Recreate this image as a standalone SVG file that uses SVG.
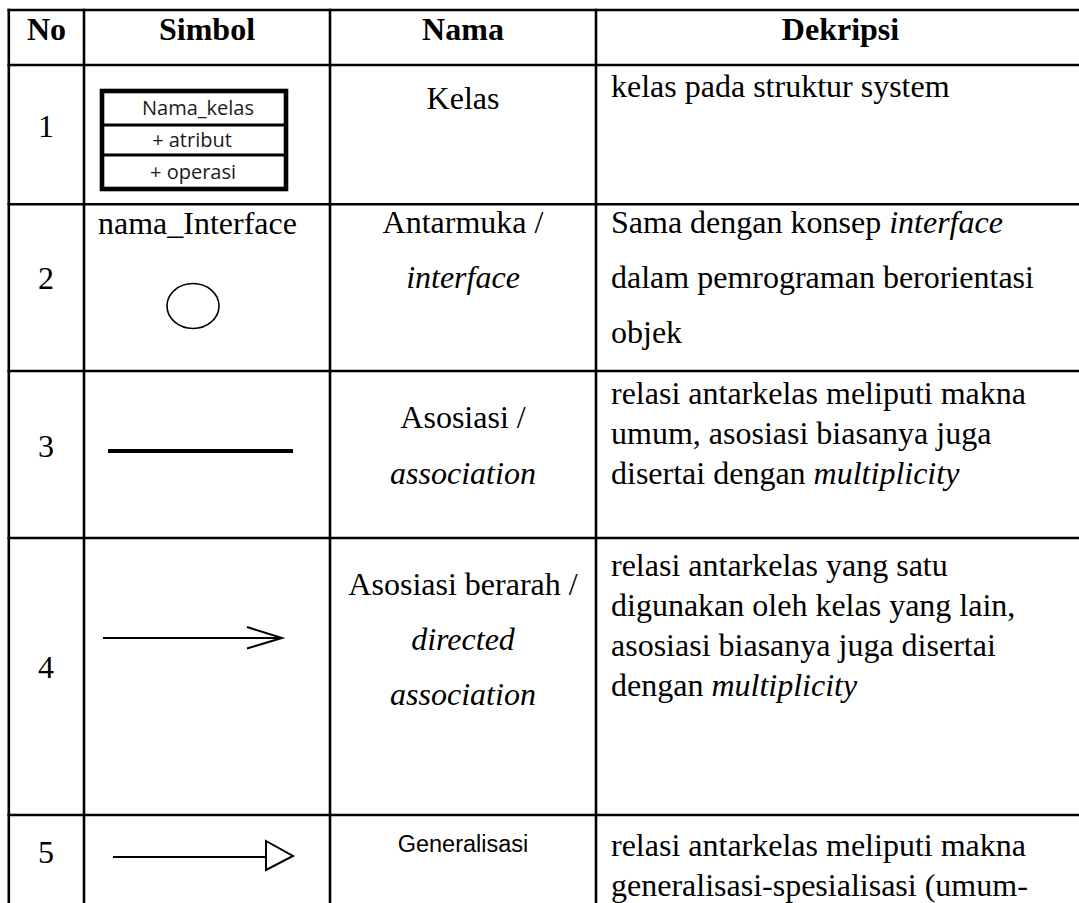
<svg xmlns="http://www.w3.org/2000/svg" width="1079" height="903" viewBox="0 0 1079 903">
  <style>
    .grid { stroke: #000; stroke-width: 2.6; fill: none; }
    .hd { font-family: "Liberation Serif", "Times New Roman", serif; font-size: 32px; font-weight: bold; fill: #000; text-anchor: middle; }
    .tx { font-family: "Liberation Serif", "Times New Roman", serif; font-size: 32px; fill: #000; }
    .mid { text-anchor: middle; }
    .it { font-style: italic; }
    .cls { font-family: "Open Sans", "Noto Sans", sans-serif; font-size: 20px; fill: #1a1a1a; text-anchor: middle; }
    .sym { stroke: #000; fill: none; stroke-linecap: butt; }
  </style>

  <rect x="0" y="0" width="1079" height="903" fill="#fff"/>

  <!-- table rules -->
  <g id="grid" class="grid">
    <line x1="7.5" y1="10" x2="1079" y2="10"/>
    <line x1="7.5" y1="65" x2="1079" y2="65"/>
    <line x1="7.5" y1="204.3" x2="1079" y2="204.3"/>
    <line x1="7.5" y1="371" x2="1079" y2="371"/>
    <line x1="7.5" y1="538" x2="1079" y2="538"/>
    <line x1="7.5" y1="815" x2="1079" y2="815"/>
    <line x1="8.8" y1="8.7" x2="8.8" y2="903"/>
    <line x1="84" y1="8.7" x2="84" y2="903"/>
    <line x1="330" y1="8.7" x2="330" y2="903"/>
    <line x1="596" y1="8.7" x2="596" y2="903"/>
  </g>

  <!-- header row -->
  <g id="header">
    <text class="hd" x="46.5" y="40">No</text>
    <text class="hd" x="207" y="40">Simbol</text>
    <text class="hd" x="463" y="40">Nama</text>
    <text class="hd" x="840.5" y="40">Dekripsi</text>
  </g>

  <!-- row 1: class -->
  <g id="row1">
    <text class="tx mid" x="46" y="137">1</text>
    <g id="class-symbol">
      <rect x="102" y="91" width="184" height="98" fill="#fff" stroke="#000" stroke-width="4.6"/>
      <line class="sym" x1="102" y1="125" x2="286" y2="125" stroke-width="2.8"/>
      <line class="sym" x1="102" y1="155" x2="286" y2="155" stroke-width="2.8"/>
      <text class="cls" x="198" y="115">Nama_kelas</text>
      <text class="cls" x="192" y="147">+ atribut</text>
      <text class="cls" x="193" y="179">+ operasi</text>
    </g>
    <text class="tx mid" x="463" y="109">Kelas</text>
    <text class="tx" x="611" y="97">kelas pada struktur system</text>
  </g>

  <!-- row 2: interface -->
  <g id="row2">
    <text class="tx mid" x="46" y="289">2</text>
    <g id="interface-symbol">
      <text class="tx" x="98" y="234">nama_Interface</text>
      <ellipse cx="193" cy="306" rx="26" ry="22.5" fill="#fff" stroke="#000" stroke-width="1.6"/>
    </g>
    <text class="tx mid" x="463" y="233">Antarmuka /</text>
    <text class="tx mid it" x="463" y="288">interface</text>
    <text class="tx" x="611" y="233">Sama dengan konsep <tspan class="it">interface</tspan></text>
    <text class="tx" x="611" y="288">dalam pemrograman berorientasi</text>
    <text class="tx" x="611" y="343">objek</text>
  </g>

  <!-- row 3: association -->
  <g id="row3">
    <text class="tx mid" x="46" y="457">3</text>
    <line id="association-symbol" class="sym" x1="108" y1="451" x2="293" y2="451" stroke-width="4"/>
    <text class="tx mid" x="463" y="428">Asosiasi /</text>
    <text class="tx mid it" x="463" y="484">association</text>
    <text class="tx" x="611" y="404">relasi antarkelas meliputi makna</text>
    <text class="tx" x="611" y="444">umum, asosiasi biasanya juga</text>
    <text class="tx" x="611" y="484">disertai dengan <tspan class="it">multiplicity</tspan></text>
  </g>

  <!-- row 4: directed association -->
  <g id="row4">
    <text class="tx mid" x="46" y="678">4</text>
    <g id="directed-symbol" class="sym" stroke-width="2">
      <line x1="103" y1="638" x2="281" y2="638"/>
      <polyline points="247,627 282,638 247,648.5"/>
    </g>
    <text class="tx mid" x="463" y="595">Asosiasi berarah /</text>
    <text class="tx mid it" x="463" y="650">directed</text>
    <text class="tx mid it" x="463" y="705">association</text>
    <text class="tx" x="611" y="576">relasi antarkelas yang satu</text>
    <text class="tx" x="611" y="616">digunakan oleh kelas yang lain,</text>
    <text class="tx" x="611" y="656">asosiasi biasanya juga disertai</text>
    <text class="tx" x="611" y="696">dengan <tspan class="it">multiplicity</tspan></text>
  </g>

  <!-- row 5: generalization -->
  <g id="row5">
    <text class="tx mid" x="46" y="863">5</text>
    <g id="generalization-symbol" class="sym" stroke-width="2">
      <line x1="113" y1="857" x2="266" y2="857"/>
      <polygon points="266,841 293,856 266,870" fill="#fff"/>
    </g>
    <text x="463" y="852" text-anchor="middle" font-family="Liberation Sans, Arial, sans-serif" font-size="23.5" fill="#000">Generalisasi</text>
    <text class="tx" x="611" y="856">relasi antarkelas meliputi makna</text>
    <text class="tx" x="611" y="896">generalisasi-spesialisasi (umum-</text>
  </g>
</svg>
